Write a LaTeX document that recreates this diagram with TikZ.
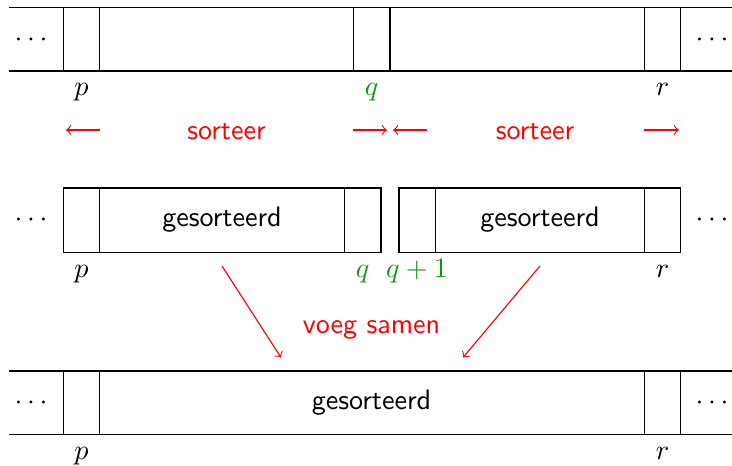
\documentclass[tikz,border=0pt]{standalone}
\usepackage{tikz}
\definecolor{qgreen}{RGB}{20,150,20}
\begin{document}
\begin{tikzpicture}[x=0.0125cm,y=-0.0125cm,line width=0.4pt,
  lbl/.style={anchor=base,inner sep=0pt},
  dots/.style={anchor=base,inner sep=0pt},
  word/.style={font=\sffamily,inner sep=0pt},
  redword/.style={font=\sffamily,text=red,anchor=base,inner sep=0pt},
  redarrow/.style={draw=red,->}]
\useasboundingbox (0,0) rectangle (732,466);

% ---------- top row ----------
\draw (9,7.5) -- (732,7.5) (9,71) -- (732,71);
\foreach \x in {63.3,99.5,353.5,390,644.5,680.7}
  \draw (\x,7.5) -- (\x,71);
\node[dots] (d1l) at (31,46.5) {$\cdots$};
\node[dots] (d1r) at (712,46.5) {$\cdots$};
\node[lbl] (p1) at (81.4,96) {$p$};
\node[lbl,text=qgreen] (q1) at (371.7,96) {$q$};
\node[lbl] (r1) at (662.6,96) {$r$};

% sorteer arrows
\coordinate (a1s) at (100,130); \coordinate (a1e) at (66,130);
\coordinate (a2s) at (353,130); \coordinate (a2e) at (387,130);
\coordinate (a3s) at (427,130); \coordinate (a3e) at (393,130);
\coordinate (a4s) at (644,130); \coordinate (a4e) at (679,130);
\draw[redarrow] (a1s) -- (a1e);
\draw[redarrow] (a2s) -- (a2e);
\draw[redarrow] (a3s) -- (a3e);
\draw[redarrow] (a4s) -- (a4e);
\node[redword] (s1) at (226.5,139.5) {sorteer};
\node[redword] (s2) at (535,139.5) {sorteer};

% ---------- middle row ----------
\draw (63.3,188) rectangle (381,252.5);
\draw (99.5,188) -- (99.5,252.5) (344.5,188) -- (344.5,252.5);
\draw (399,188) rectangle (680.7,252.5);
\draw (435.5,188) -- (435.5,252.5) (644.5,188) -- (644.5,252.5);
\node[dots] (d2l) at (31,227) {$\cdots$};
\node[dots] (d2r) at (712,227) {$\cdots$};
\node[word] (g1) at (222,220) {gesorteerd};
\node[word] (g2) at (540,220) {gesorteerd};
\node[lbl] (p2) at (81.4,277.5) {$p$};
\node[lbl,text=qgreen] (q2) at (362.7,277.5) {$q$};
\node[lbl,text=qgreen] (q3) at (417,277.5) {$q+1$};
\node[lbl] (r2) at (662.6,277.5) {$r$};

% merge arrows
\coordinate (m1s) at (222,266); \coordinate (m1e) at (281,357.5);
\coordinate (m2s) at (540,266); \coordinate (m2e) at (463,357.5);
\draw[redarrow] (m1s) -- (m1e);
\draw[redarrow] (m2s) -- (m2e);
\node[redword] (vs) at (371.5,333.5) {voeg samen};

% ---------- bottom row ----------
\draw (9,371) -- (732,371) (9,434.5) -- (732,434.5);
\foreach \x in {63.3,99.5,644.5,680.7}
  \draw (\x,371) -- (\x,434.5);
\node[dots] (d3l) at (31,410) {$\cdots$};
\node[dots] (d3r) at (712,410) {$\cdots$};
\node[word] (g3) at (371.5,403) {gesorteerd};
\node[lbl] (p3) at (81.4,460) {$p$};
\node[lbl] (r3) at (662.6,460) {$r$};
\end{tikzpicture}
\end{document}
